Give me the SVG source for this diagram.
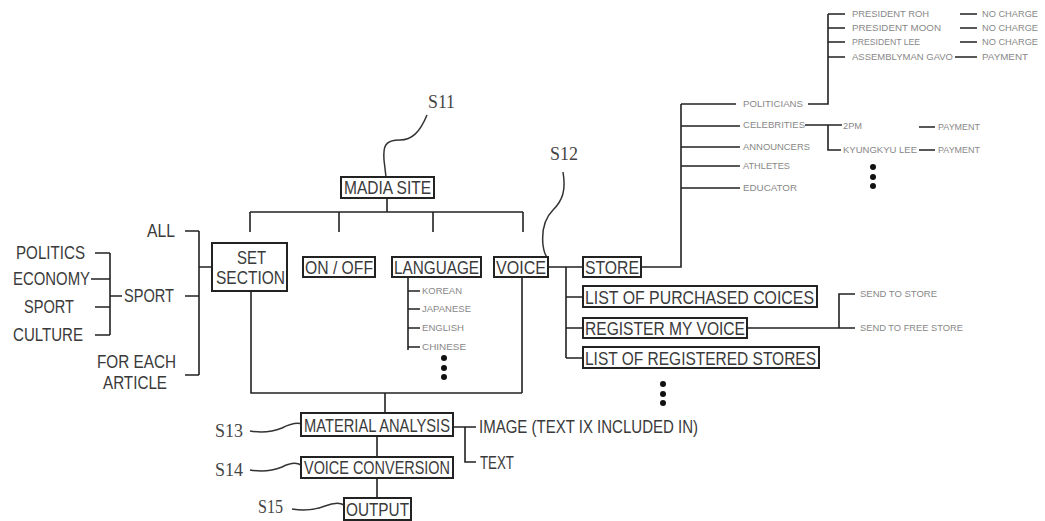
<svg xmlns="http://www.w3.org/2000/svg" width="1045" height="521" viewBox="0 0 1045 521">
<style>
.bg{fill:#fff}
.box{fill:#fff;stroke:#222;stroke-width:2}
.ln{fill:none;stroke:#222;stroke-width:1.6}
.sq{fill:none;stroke:#333;stroke-width:1.5}
.lbl{font-family:"Liberation Sans",Arial,sans-serif;font-size:18px;fill:#3a3a3a}
.sm{font-family:"Liberation Sans",Arial,sans-serif;font-size:9px;fill:#888}
.step{font-family:"Liberation Serif","Times New Roman",serif;font-size:18px;fill:#444}
.dot{fill:#111}
</style>
<rect class="bg" x="0" y="0" width="1045" height="521"/>

<g id="connectors">
  <path class="ln" d="M387,198 V212 M250,212 H523 M250,212 V232 M339,212 V232 M433,212 V232 M523,212 V232"/>
  <path class="ln" d="M185,231 H199 M199,231 V375 M185,296 H199 M185,375 H199 M199,267 H212"/>
  <path class="ln" d="M110,253 V335 M95,253 H110 M91,279 H110 M95,307 H110 M95,335 H110 M110,296 H122"/>
  <path class="ln" d="M251,291 V393 H522 M522,277 V393 M385,393 V413 M377,436 V457 M377,478 V498"/>
  <path class="ln" d="M453,427 H476 M465,427 V462 H476"/>
  <path class="ln" d="M408,277 V350 M408,291 H420 M408,309 H420 M408,328 H420 M408,347 H420"/>
  <path class="ln" d="M548,267 H583 M566,267 V358 M566,297 H583 M566,328 H583 M566,358 H583"/>
  <path class="ln" d="M747,328 H855 M839,328 V294 H855"/>
  <path class="ln" d="M641,267 H681 V104 M681,104 H736 M681,126 H740 M681,147 H740 M681,166 H740 M681,188 H740"/>
  <path class="ln" d="M808,104 H828 V14 M828,14 H845 M828,28 H845 M828,42 H845 M828,57 H845"/>
  <path class="ln" d="M960,14 H977 M960,28 H977 M960,42 H977 M955,57 H977"/>
  <path class="ln" d="M805,125 H842 M828,125 V150 H841 M919,127 H935 M919,150 H935"/>
  <path class="sq" d="M427,115 C420,132 412,140 400,140 C385,140 383,146 384,160 L386,177"/>
  <path class="sq" d="M563,172 C566,190 563,200 553,210 C543,220 542,235 543,245 C544,252 546,256 547,257"/>
  <path class="sq" d="M250,431 C262,433 272,432 282,428 C290,424 296,422 302,424"/>
  <path class="sq" d="M250,470 C262,472 272,471 282,467 C290,463 296,462 301,465"/>
  <path class="sq" d="M292,509 C305,511 315,510 325,506 C333,503 339,502 344,505"/>
</g>

<g id="s11"><text class="step" x="428" y="108" textLength="27" lengthAdjust="spacingAndGlyphs">S11</text></g>
<g id="s12"><text class="step" x="550" y="160" textLength="28" lengthAdjust="spacingAndGlyphs">S12</text></g>
<g id="s13"><text class="step" x="215" y="437" textLength="28" lengthAdjust="spacingAndGlyphs">S13</text></g>
<g id="s14"><text class="step" x="215" y="476" textLength="28" lengthAdjust="spacingAndGlyphs">S14</text></g>
<g id="s15"><text class="step" x="258" y="513" textLength="25" lengthAdjust="spacingAndGlyphs">S15</text></g>

<g id="madia-site"><rect class="box" x="341" y="177" width="93" height="21"/><text class="lbl" x="344" y="194" textLength="87" lengthAdjust="spacingAndGlyphs">MADIA SITE</text></g>
<g id="set-section"><rect class="box" x="212" y="243" width="75" height="48"/><text class="lbl" x="237" y="264" textLength="29" lengthAdjust="spacingAndGlyphs">SET</text><text class="lbl" x="216" y="284" textLength="69" lengthAdjust="spacingAndGlyphs">SECTION</text></g>
<g id="on-off"><rect class="box" x="303" y="257" width="72" height="20"/><text class="lbl" x="305" y="274" textLength="68" lengthAdjust="spacingAndGlyphs">ON / OFF</text></g>
<g id="language"><rect class="box" x="392" y="257" width="89" height="20"/><text class="lbl" x="394" y="274" textLength="85" lengthAdjust="spacingAndGlyphs">LANGUAGE</text></g>
<g id="voice"><rect class="box" x="494" y="257" width="54" height="20"/><text class="lbl" x="496" y="274" textLength="50" lengthAdjust="spacingAndGlyphs">VOICE</text></g>
<g id="store"><rect class="box" x="583" y="257" width="58" height="20"/><text class="lbl" x="585" y="274" textLength="54" lengthAdjust="spacingAndGlyphs">STORE</text></g>
<g id="purchased"><rect class="box" x="583" y="286" width="234" height="21"/><text class="lbl" x="585" y="304" textLength="229" lengthAdjust="spacingAndGlyphs">LIST OF PURCHASED COICES</text></g>
<g id="register"><rect class="box" x="583" y="318" width="164" height="20"/><text class="lbl" x="585" y="335" textLength="160" lengthAdjust="spacingAndGlyphs">REGISTER MY VOICE</text></g>
<g id="registered"><rect class="box" x="583" y="347" width="236" height="21"/><text class="lbl" x="585" y="365" textLength="231" lengthAdjust="spacingAndGlyphs">LIST OF REGISTERED STORES</text></g>
<g id="material"><rect class="box" x="301" y="413" width="152" height="23"/><text class="lbl" x="304" y="432" textLength="146" lengthAdjust="spacingAndGlyphs">MATERIAL ANALYSIS</text></g>
<g id="conversion"><rect class="box" x="301" y="457" width="152" height="21"/><text class="lbl" x="304" y="474" textLength="146" lengthAdjust="spacingAndGlyphs">VOICE CONVERSION</text></g>
<g id="output"><rect class="box" x="344" y="498" width="67" height="22"/><text class="lbl" x="346" y="516" textLength="63" lengthAdjust="spacingAndGlyphs">OUTPUT</text></g>

<g id="left-options">
  <text class="lbl" x="147" y="237" textLength="28" lengthAdjust="spacingAndGlyphs">ALL</text>
  <text class="lbl" x="124" y="302" textLength="50" lengthAdjust="spacingAndGlyphs">SPORT</text>
  <text class="lbl" x="97" y="368" textLength="79" lengthAdjust="spacingAndGlyphs">FOR EACH</text>
  <text class="lbl" x="103" y="389" textLength="64" lengthAdjust="spacingAndGlyphs">ARTICLE</text>
</g>
<g id="sport-options">
  <text class="lbl" x="16" y="259" textLength="69" lengthAdjust="spacingAndGlyphs">POLITICS</text>
  <text class="lbl" x="13" y="285" textLength="77" lengthAdjust="spacingAndGlyphs">ECONOMY</text>
  <text class="lbl" x="24" y="313" textLength="50" lengthAdjust="spacingAndGlyphs">SPORT</text>
  <text class="lbl" x="13" y="341" textLength="70" lengthAdjust="spacingAndGlyphs">CULTURE</text>
</g>
<g id="material-types">
  <text class="lbl" x="479" y="433" textLength="219" lengthAdjust="spacingAndGlyphs">IMAGE (TEXT IX INCLUDED IN)</text>
  <text class="lbl" x="480" y="469" textLength="34" lengthAdjust="spacingAndGlyphs">TEXT</text>
</g>
<g id="languages">
  <text class="sm" x="422" y="294" textLength="40" lengthAdjust="spacingAndGlyphs">KOREAN</text>
  <text class="sm" x="422" y="312" textLength="49" lengthAdjust="spacingAndGlyphs">JAPANESE</text>
  <text class="sm" x="422" y="331" textLength="42" lengthAdjust="spacingAndGlyphs">ENGLISH</text>
  <text class="sm" x="422" y="350" textLength="44" lengthAdjust="spacingAndGlyphs">CHINESE</text>
  <circle class="dot" cx="444" cy="358" r="3"/><circle class="dot" cx="444" cy="368" r="3"/><circle class="dot" cx="444" cy="377" r="3"/>
</g>
<g id="register-targets">
  <text class="sm" x="860" y="297" textLength="77" lengthAdjust="spacingAndGlyphs">SEND TO STORE</text>
  <text class="sm" x="860" y="331" textLength="103" lengthAdjust="spacingAndGlyphs">SEND TO FREE STORE</text>
</g>
<g id="store-more"><circle class="dot" cx="663" cy="384" r="3"/><circle class="dot" cx="663" cy="394" r="3"/><circle class="dot" cx="663" cy="403" r="3"/></g>
<g id="categories">
  <text class="sm" x="743" y="107" textLength="60" lengthAdjust="spacingAndGlyphs">POLITICIANS</text>
  <text class="sm" x="743" y="128" textLength="62" lengthAdjust="spacingAndGlyphs">CELEBRITIES</text>
  <text class="sm" x="743" y="150" textLength="67" lengthAdjust="spacingAndGlyphs">ANNOUNCERS</text>
  <text class="sm" x="743" y="169" textLength="47" lengthAdjust="spacingAndGlyphs">ATHLETES</text>
  <text class="sm" x="743" y="191" textLength="54" lengthAdjust="spacingAndGlyphs">EDUCATOR</text>
  <circle class="dot" cx="873" cy="167" r="3"/><circle class="dot" cx="873" cy="177" r="3"/><circle class="dot" cx="873" cy="186" r="3"/>
</g>
<g id="celebrities">
  <text class="sm" x="843" y="129" textLength="19" lengthAdjust="spacingAndGlyphs">2PM</text>
  <text class="sm" x="843" y="153" textLength="74" lengthAdjust="spacingAndGlyphs">KYUNGKYU LEE</text>
  <text class="sm" x="938" y="130" textLength="42" lengthAdjust="spacingAndGlyphs">PAYMENT</text>
  <text class="sm" x="938" y="153" textLength="42" lengthAdjust="spacingAndGlyphs">PAYMENT</text>
</g>
<g id="politicians">
  <text class="sm" x="852" y="17" textLength="77" lengthAdjust="spacingAndGlyphs">PRESIDENT ROH</text>
  <text class="sm" x="852" y="31" textLength="89" lengthAdjust="spacingAndGlyphs">PRESIDENT MOON</text>
  <text class="sm" x="852" y="45" textLength="68" lengthAdjust="spacingAndGlyphs">PRESIDENT LEE</text>
  <text class="sm" x="852" y="60" textLength="101" lengthAdjust="spacingAndGlyphs">ASSEMBLYMAN GAVO</text>
  <text class="sm" x="982" y="17" textLength="56" lengthAdjust="spacingAndGlyphs">NO CHARGE</text>
  <text class="sm" x="982" y="31" textLength="56" lengthAdjust="spacingAndGlyphs">NO CHARGE</text>
  <text class="sm" x="982" y="45" textLength="56" lengthAdjust="spacingAndGlyphs">NO CHARGE</text>
  <text class="sm" x="982" y="60" textLength="46" lengthAdjust="spacingAndGlyphs">PAYMENT</text>
</g>
</svg>
